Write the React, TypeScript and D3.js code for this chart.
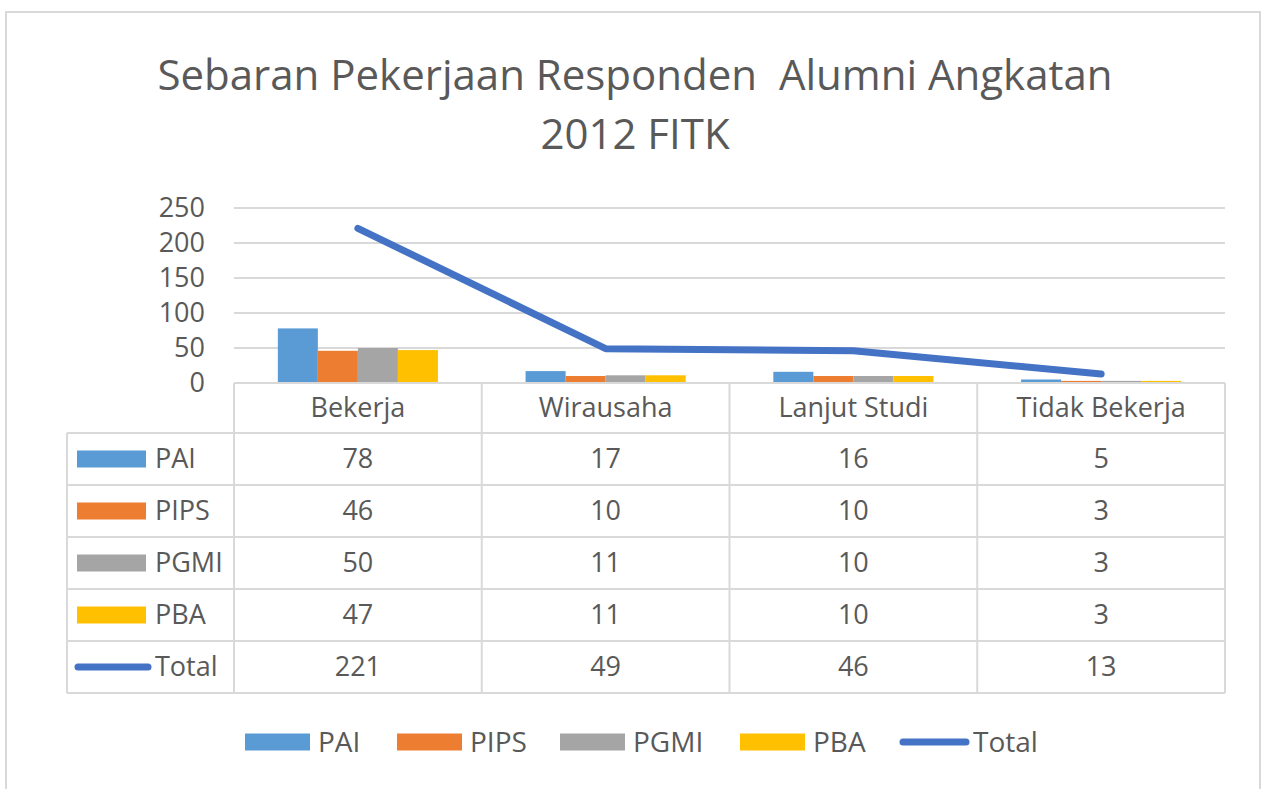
import React from "react";
import * as d3 from "d3";

const categories = ["Bekerja", "Wirausaha", "Lanjut Studi", "Tidak Bekerja"];
const seriesNames = ["PAI", "PIPS", "PGMI", "PBA"];
const paiValues = [78, 17, 16, 5];
const pipsValues = [46, 10, 10, 3];
const pgmiValues = [50, 11, 10, 3];
const pbaValues = [47, 11, 10, 3];
const totalValues = [221, 49, 46, 13];
const yTicks = [0, 50, 100, 150, 200, 250];
const titleLines = ["Sebaran Pekerjaan Responden  Alumni Angkatan", "2012 FITK"];

const colors: Record<string, string> = {
  PAI: "#5B9BD5",
  PIPS: "#ED7D31",
  PGMI: "#A5A5A5",
  PBA: "#FFC000",
  Total: "#4472C4",
};

const seriesValues: Record<string, number[]> = {
  PAI: paiValues,
  PIPS: pipsValues,
  PGMI: pgmiValues,
  PBA: pbaValues,
  Total: totalValues,
};

const font = "'Open Sans', 'Noto Sans', sans-serif";
const textColor = "#595959";
const gridColor = "#D9D9D9";

export default function App() {
  const width = 1262;
  const height = 789;
  const plot = { left: 234, right: 1225, top: 208, bottom: 383 };
  const tableLeft = 67;
  const headerBottom = 433;
  const tableBottom = 693;

  // escala de categorías
  const x0 = d3
    .scaleBand<string>()
    .domain(categories)
    .range([plot.left, plot.right])
    .padding(0);

  // barras dentro de cada categoría (gap 219%)
  const x1 = d3
    .scaleBand<string>()
    .domain(seriesNames)
    .range([0, x0.bandwidth()])
    .paddingInner(0)
    .paddingOuter(1.095);

  const y = d3.scaleLinear().domain([0, 250]).range([plot.bottom, plot.top]);

  const rows = [...seriesNames, "Total"];
  const rowY = d3
    .scaleBand<string>()
    .domain(rows)
    .range([headerBottom, tableBottom]);

  const line = d3
    .line<number>()
    .x((_, i) => (x0(categories[i]) ?? 0) + x0.bandwidth() / 2)
    .y((d) => y(d));

  // leyenda inferior
  const legendItems = [
    { name: "PAI", x: 245 },
    { name: "PIPS", x: 397 },
    { name: "PGMI", x: 560 },
    { name: "PBA", x: 740 },
    { name: "Total", x: 900 },
  ];
  const legendY = 742;

  return (
    <svg
      width={width}
      height={height}
      style={{ position: "absolute", left: 0, top: 0, background: "#fff" }}
      fontFamily={font}
    >
      <rect x={0} y={0} width={width} height={height} fill="#fff" />
      {/* Marco del gráfico */}
      <rect
        x={6}
        y={12}
        width={1254}
        height={820}
        fill="#fff"
        stroke={gridColor}
        strokeWidth={2}
      />

      {/* Título */}
      {titleLines.map((t, i) => (
        <text
          key={i}
          x={635}
          y={90 + i * 59}
          textAnchor="middle"
          fontSize={42}
          fill={textColor}
          style={{ whiteSpace: "pre" }}
        >
          {t}
        </text>
      ))}

      {/* Líneas de cuadrícula */}
      {yTicks.slice(1).map((t) => (
        <line
          key={t}
          x1={plot.left}
          x2={plot.right}
          y1={y(t)}
          y2={y(t)}
          stroke={gridColor}
          strokeWidth={2}
        />
      ))}

      {/* Eje Y */}
      {yTicks.map((t) => (
        <text
          key={t}
          x={205}
          y={y(t)}
          dy="0.35em"
          textAnchor="end"
          fontSize={27}
          fill={textColor}
        >
          {t}
        </text>
      ))}

      {/* Barras */}
      {seriesNames.map((s) =>
        categories.map((c, i) => (
          <rect
            key={s + c}
            x={(x0(c) ?? 0) + (x1(s) ?? 0)}
            y={y(seriesValues[s][i])}
            width={x1.bandwidth()}
            height={y(0) - y(seriesValues[s][i])}
            fill={colors[s]}
          />
        ))
      )}

      {/* Línea Total */}
      <path
        d={line(totalValues) ?? ""}
        fill="none"
        stroke={colors.Total}
        strokeWidth={7}
        strokeLinecap="round"
        strokeLinejoin="round"
      />

      {/* Tabla de datos */}
      <g stroke={gridColor} strokeWidth={2} fill="none">
        <line x1={plot.left} x2={plot.right} y1={plot.bottom} y2={plot.bottom} />
        {rows.map((r) => (
          <line
            key={r}
            x1={tableLeft}
            x2={plot.right}
            y1={rowY(r)}
            y2={rowY(r)}
          />
        ))}
        <line x1={tableLeft} x2={plot.right} y1={tableBottom} y2={tableBottom} />
        <line x1={tableLeft} x2={tableLeft} y1={headerBottom} y2={tableBottom} />
        {categories.map((c) => (
          <line
            key={c}
            x1={x0(c)}
            x2={x0(c)}
            y1={plot.bottom}
            y2={tableBottom}
          />
        ))}
        <line x1={plot.right} x2={plot.right} y1={plot.bottom} y2={tableBottom} />
      </g>

      {categories.map((c) => (
        <text
          key={c}
          x={(x0(c) ?? 0) + x0.bandwidth() / 2}
          y={(plot.bottom + headerBottom) / 2}
          dy="0.35em"
          textAnchor="middle"
          fontSize={27}
          fill={textColor}
        >
          {c}
        </text>
      ))}

      {rows.map((r) => {
        const cy = (rowY(r) ?? 0) + rowY.bandwidth() / 2;
        return (
          <g key={r}>
            {r === "Total" ? (
              <line
                x1={78}
                x2={148}
                y1={cy}
                y2={cy}
                stroke={colors.Total}
                strokeWidth={7}
                strokeLinecap="round"
              />
            ) : (
              <rect x={77} y={cy - 8.5} width={69} height={17} fill={colors[r]} />
            )}
            <text
              x={155}
              y={cy}
              dy="0.35em"
              fontSize={27}
              fill={textColor}
            >
              {r}
            </text>
            {categories.map((c, i) => (
              <text
                key={c}
                x={(x0(c) ?? 0) + x0.bandwidth() / 2}
                y={cy}
                dy="0.35em"
                textAnchor="middle"
                fontSize={27}
                fill={textColor}
              >
                {seriesValues[r][i]}
              </text>
            ))}
          </g>
        );
      })}

      {/* Leyenda */}
      {legendItems.map((it) => (
        <g key={it.name}>
          {it.name === "Total" ? (
            <line
              x1={it.x + 3}
              x2={it.x + 66}
              y1={legendY}
              y2={legendY}
              stroke={colors.Total}
              strokeWidth={7}
              strokeLinecap="round"
            />
          ) : (
            <rect
              x={it.x}
              y={legendY - 8.5}
              width={65}
              height={17}
              fill={colors[it.name]}
            />
          )}
          <text
            x={it.x + 73}
            y={legendY}
            dy="0.35em"
            fontSize={28}
            fill={textColor}
          >
            {it.name}
          </text>
        </g>
      ))}
    </svg>
  );
}
